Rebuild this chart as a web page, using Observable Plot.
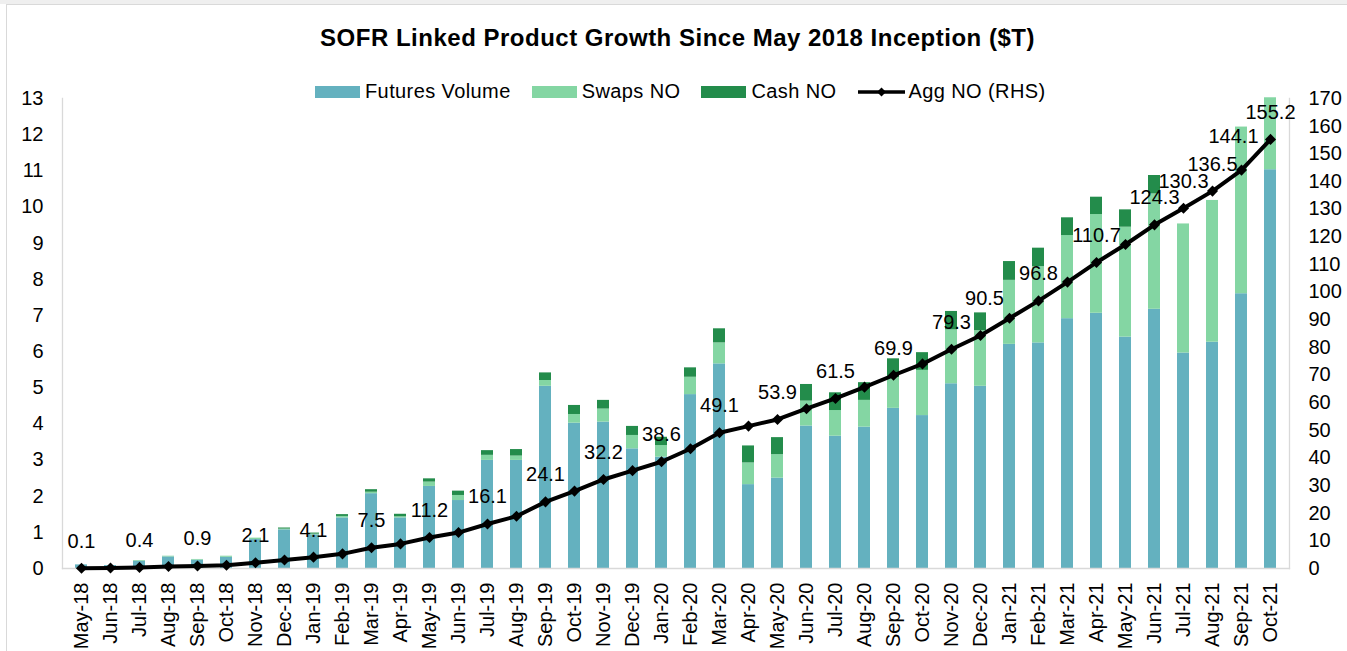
<!DOCTYPE html>
<html>
<head>
<meta charset="utf-8">
<script src="https://cdn.jsdelivr.net/npm/d3@7"></script>
<script src="https://cdn.jsdelivr.net/npm/@observablehq/plot@0.6"></script>
<style>
  body { margin: 0; background: #fff; font-family: "Liberation Sans", Arial, sans-serif; color: #000; }
  #wrap { position: relative; width: 1347px; height: 651px; overflow: hidden; background: #fff; }
  #topband { position: absolute; left: 0; top: 0; width: 1347px; height: 4px; background: #efefef; }
  #frame { position: absolute; left: 6px; top: 4px; width: 1400px; height: 700px; border: 1px solid #d9d9d9; }
  #title { position: absolute; left: 0; top: 26px; width: 1355px; text-align: center; font-weight: bold; font-size: 24px; line-height: 1; letter-spacing: 0.5px; white-space: nowrap; }
  #legend { position: absolute; left: 315px; top: 81px; display: flex; align-items: center; font-size: 20px; line-height: 1; letter-spacing: 0.4px; z-index: 2; white-space: nowrap; }
  .item { display: flex; align-items: center; margin-right: 21px; }
  .sw { width: 45px; height: 12px; margin-right: 5px; margin-top: 2px; }
  #chart { position: absolute; left: 0; top: 80px; }
</style>
</head>
<body>
<div id="wrap">
  <div id="topband"></div>
  <div id="frame"></div>
  <div id="title">SOFR Linked Product Growth Since May 2018 Inception ($T)</div>
  <div id="legend"></div>
  <div id="chart"></div>
</div>
<script>
// ---- data ----
const months = ["May-18","Jun-18","Jul-18","Aug-18","Sep-18","Oct-18","Nov-18","Dec-18",
  "Jan-19","Feb-19","Mar-19","Apr-19","May-19","Jun-19","Jul-19","Aug-19","Sep-19","Oct-19","Nov-19","Dec-19",
  "Jan-20","Feb-20","Mar-20","Apr-20","May-20","Jun-20","Jul-20","Aug-20","Sep-20","Oct-20","Nov-20","Dec-20",
  "Jan-21","Feb-21","Mar-21","Apr-21","May-21","Jun-21","Jul-21","Aug-21","Sep-21","Oct-21"];

const futuresVolume = [0.10,0.08,0.20,0.32,0.23,0.31,0.80,1.07,
  0.93,1.40,2.07,1.40,2.27,1.88,2.99,2.99,5.04,4.02,4.05,3.31,
  3.08,4.81,5.66,2.32,2.50,3.94,3.66,3.91,4.43,4.23,5.11,5.04,
  6.20,6.24,6.91,7.06,6.40,7.17,5.96,6.26,7.60,11.03];

const swapsNO = [0,0,0.02,0.02,0.02,0.03,0.04,0.02,
  0.02,0.04,0.04,0.03,0.12,0.14,0.14,0.12,0.16,0.24,0.36,0.37,
  0.32,0.48,0.58,0.60,0.65,0.69,0.71,0.74,0.85,1.25,1.49,1.54,
  1.77,2.11,2.30,2.73,3.04,3.19,3.57,3.92,4.61,1.99];

const cashNO = [0,0,0,0,0,0,0,0.03,
  0.03,0.05,0.07,0.07,0.09,0.12,0.13,0.18,0.21,0.25,0.24,0.25,
  0.23,0.26,0.39,0.47,0.47,0.46,0.49,0.49,0.52,0.49,0.51,0.49,
  0.52,0.51,0.49,0.48,0.48,0.51,0,0,0,0];

const aggNO = [0.1,0.2,0.4,0.7,0.9,1.2,2.1,3.1,
  4.1,5.3,7.5,8.9,11.2,13.0,16.1,18.9,24.1,28.0,32.2,35.4,
  38.6,43.3,49.1,51.5,53.9,57.8,61.5,65.6,69.9,74.0,79.3,84.3,
  90.5,96.8,103.6,110.7,117.2,124.3,130.3,136.5,144.1,155.2];

const labeledMonths = ["May-18","Jul-18","Sep-18","Nov-18","Jan-19","Mar-19","May-19","Jul-19","Sep-19",
  "Nov-19","Jan-20","Mar-20","May-20","Jul-20","Sep-20","Nov-20","Jan-21","Feb-21","Apr-21","Jun-21",
  "Jul-21","Aug-21","Sep-21","Oct-21"];

const seriesNames = ["Futures Volume","Swaps NO","Cash NO"];
const lineName = "Agg NO (RHS)";
const leftTicks = [0,1,2,3,4,5,6,7,8,9,10,11,12,13];
const rightTicks = [0,10,20,30,40,50,60,70,80,90,100,110,120,130,140,150,160,170];

// ---- styles ----
const colors = ["#64b1bf", "#84d6a3", "#238c4b"];
const leftMax = 13, rightMax = 170;
const toLeft = v => v * leftMax / rightMax;
// manually nudged labels (dx, dy)
const nudges = {"Jan-21": [-25, -20], "Sep-21": [-8, -34]};

// ---- build tables ----
const seriesValues = [futuresVolume, swapsNO, cashNO];
const stacked = months.flatMap((m, i) => seriesNames.map((s, k) => ({month: m, series: s, value: seriesValues[k][i]})));
const agg = months.map((m, i) => ({month: m, v: aggNO[i]}));
const labels = agg.filter(d => labeledMonths.includes(d.month));
const plainLabels = labels.filter(d => !nudges[d.month]);

const marks = [
  Plot.barY(stacked, {x: "month", y: "value", fill: "series", order: seriesNames}),
  Plot.frame({anchor: "left", stroke: "#d9d9d9", strokeWidth: 1.3}),
  Plot.frame({anchor: "right", stroke: "#d9d9d9", strokeWidth: 1.3}),
  Plot.frame({anchor: "bottom", stroke: "#d9d9d9", strokeWidth: 1.3}),
  Plot.line(agg, {x: "month", y: d => toLeft(d.v), stroke: "#000", strokeWidth: 4}),
  Plot.dot(agg, {x: "month", y: d => toLeft(d.v), symbol: "diamond2", r: 5, fill: "#000", stroke: "none"}),
  Plot.text(plainLabels, {x: "month", y: d => toLeft(d.v), text: d => d.v.toFixed(1), dy: -27, fontSize: 20, fill: "#000"}),
  ...Object.entries(nudges).map(([m, [dx, dy]]) =>
    Plot.text(labels.filter(d => d.month === m), {x: "month", y: d => toLeft(d.v), text: d => d.v.toFixed(1), dx, dy, fontSize: 20, fill: "#000"})),
  Plot.axisX({tickRotate: -90, tickSize: 0, tickPadding: 14, fontSize: 20, label: null}),
  Plot.axisY({anchor: "left", ticks: leftTicks, tickSize: 0, tickPadding: 19, fontSize: 20, label: null, tickFormat: d => String(d)}),
  Plot.axisY({anchor: "right", ticks: rightTicks.map(toLeft), tickSize: 0, tickPadding: 19, fontSize: 20, label: null,
    tickFormat: d => String(Math.round(d * rightMax / leftMax))})
];

const chart = Plot.plot({
  width: 1347,
  height: 571,
  marginTop: 18,
  marginBottom: 83,
  marginLeft: 62,
  marginRight: 58,
  style: {fontFamily: "'Liberation Sans', Arial, sans-serif", fontSize: "20px", color: "#000", background: "transparent", overflow: "visible"},
  x: {type: "band", domain: months, paddingInner: 0.6, paddingOuter: 0.3},
  y: {domain: [0, leftMax]},
  color: {domain: seriesNames, range: colors},
  marks
});
document.getElementById("chart").appendChild(chart);

// ---- legend ----
const legend = document.getElementById("legend");
seriesNames.forEach((s, k) => {
  const it = document.createElement("div");
  it.className = "item";
  it.innerHTML = `<div class="sw" style="background:${colors[k]}"></div><span>${s}</span>`;
  legend.appendChild(it);
});
const li = document.createElement("div");
li.className = "item";
li.innerHTML = `<svg width="47" height="14" style="margin-right:4px;margin-top:2px"><line x1="0" y1="7" x2="47" y2="7" stroke="#000" stroke-width="3.5"/><path d="M23.5,2.5L28,7L23.5,11.5L19,7Z" fill="#000"/></svg><span>${lineName}</span>`;
legend.appendChild(li);
</script>
</body>
</html>
